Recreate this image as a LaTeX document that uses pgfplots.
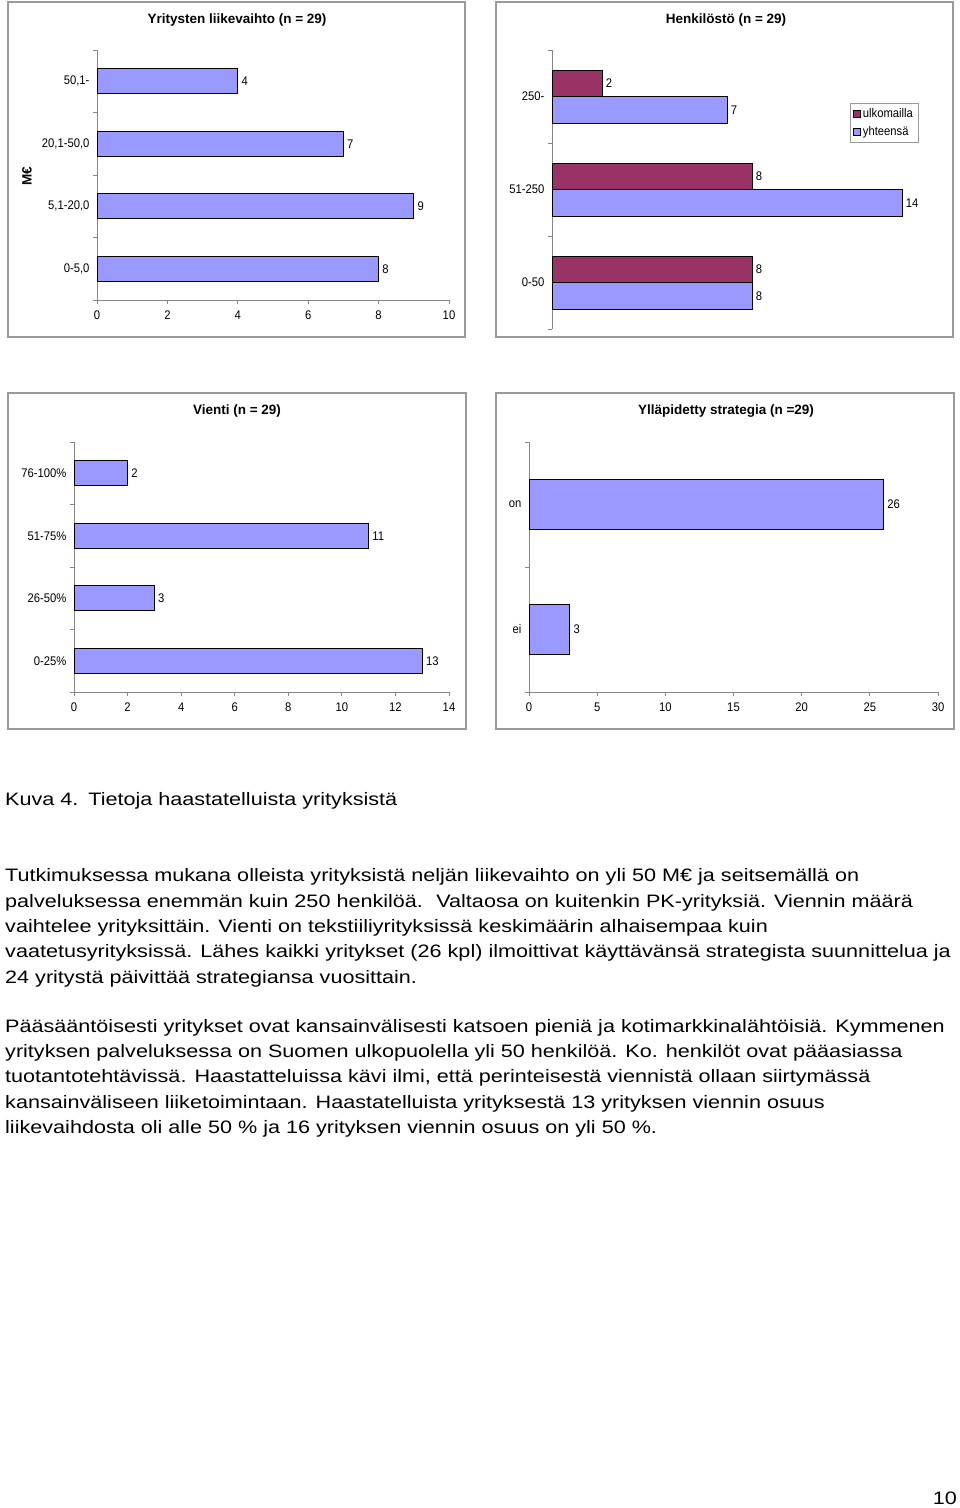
\documentclass[border=0pt]{standalone}
\usepackage{fontspec}
\setmainfont{Liberation Sans}
\newfontfamily\bodyfont[FakeStretch=1.2]{Liberation Sans}
\newfontfamily\chartfont[FakeStretch=0.9]{Liberation Sans}
\usepackage{pgfplots}
\pgfplotsset{compat=1.18}
\definecolor{barblue}{HTML}{9999FF}
\definecolor{barpurple}{HTML}{993366}
\definecolor{axgrey}{HTML}{868686}
\definecolor{framegrey}{HTML}{9A9A9A}
\newcommand\chartsz{\chartfont\fontsize{12.5}{14}\selectfont}
\newcommand\titlesz{\bfseries\fontsize{13.5}{16}\selectfont}
\newcommand\bodysz{\bodyfont\fontsize{18}{25}\selectfont}
\pgfplotsset{
  exbar/.style={
    xbar, scale only axis, anchor=south west, clip=false,
    axis lines=left, axis line style={-, draw=axgrey, line width=1pt},
    tick style={draw=axgrey, line width=1pt},
    tick align=outside, major tick length=4pt, minor tick length=4pt,
    every major y tick/.append style={draw=none},
    enlargelimits=false,
    /pgf/number format/assume math mode=true,
    tick label style={font=\chartsz, text=black},
    xticklabel style={yshift=-3pt},
    nodes near coords, point meta=x,
    nodes near coords style={font=\chartsz, text=black},
  },
}
\begin{document}
\begin{tikzpicture}
\path[use as bounding box] (0,0) rectangle (960pt,-1508pt);
% frames
\draw[framegrey, line width=1.2pt] (8pt,-2pt) rectangle (465pt,-337pt);
\draw[framegrey, line width=1.2pt] (496pt,-2pt) rectangle (953pt,-337pt);
\draw[framegrey, line width=1.2pt] (8pt,-393pt) rectangle (466pt,-729pt);
\draw[framegrey, line width=1.2pt] (496pt,-393pt) rectangle (954pt,-729pt);
% titles
\node[font=\titlesz] at (237pt,-20pt) {Yritysten liikevaihto (n = 29)};
\node[font=\titlesz] at (726pt,-20pt) {Henkilöstö (n = 29)};
\node[font=\titlesz] at (237pt,-411pt) {Vienti (n = 29)};
\node[font=\titlesz] at (726pt,-411pt) {Ylläpidetty strategia (n =29)};
\node[font=\titlesz, rotate=90] at (27pt,-176pt) {M€};

% Panel 1
\begin{axis}[exbar, at={(97pt,-300pt)}, width=352pt, height=250pt,
  xmin=0, xmax=10, xtick={0,2,...,10},
  ymin=-0.5, ymax=3.5, ytick={0,1,2,3},
  yticklabels={{0-5,0},{5,1-20,0},{20,1-50,0},{50,1-}},
  minor ytick={-0.5,0.5,1.5,2.5,3.5}, bar width=0.4]
\addplot[fill=barblue, draw=black, line width=1pt] coordinates {(8,0) (9,1) (7,2) (4,3)};
\end{axis}

% Panel 2
\begin{axis}[exbar, at={(552pt,-329pt)}, width=375pt, height=279pt,
  axis x line=none,
  xmin=0, xmax=15,
  ymin=-0.5, ymax=2.5, ytick={0,1,2},
  yticklabels={{0-50},{51-250},{250-}},
  minor ytick={-0.5,0.5,1.5,2.5}, bar width=0.285,
  legend style={at={(0.795,0.81)}, anchor=north west, draw=framegrey,
    font=\chartsz, inner sep=3pt, row sep=4pt},
  legend cell align=left,
  legend image code/.code={\draw[#1, draw=black, line width=0.6pt] (0pt,-3.5pt) rectangle (7pt,3.5pt);}]
\addplot[fill=barpurple, draw=black, line width=1pt, bar shift=0.1425] coordinates {(8,0) (8,1) (2,2)};
\addplot[fill=barblue, draw=black, line width=1pt, bar shift=-0.1425] coordinates {(8,0) (14,1) (7,2)};
\legend{ulkomailla, yhteensä}
\end{axis}

% Panel 3
\begin{axis}[exbar, at={(74pt,-692pt)}, width=375pt, height=250pt,
  xmin=0, xmax=14, xtick={0,2,...,14},
  ymin=-0.5, ymax=3.5, ytick={0,1,2,3},
  yticklabels={{0-25\%},{26-50\%},{51-75\%},{76-100\%}},
  minor ytick={-0.5,0.5,1.5,2.5,3.5}, bar width=0.4]
\addplot[fill=barblue, draw=black, line width=1pt] coordinates {(13,0) (3,1) (11,2) (2,3)};
\end{axis}

% Panel 4
\begin{axis}[exbar, at={(529pt,-692pt)}, width=409pt, height=250pt,
  xmin=0, xmax=30, xtick={0,5,...,30},
  ymin=-0.5, ymax=1.5, ytick={0,1},
  yticklabels={ei,on},
  minor ytick={-0.5,0.5,1.5}, bar width=0.4]
\addplot[fill=barblue, draw=black, line width=1pt] coordinates {(3,0) (26,1)};
\end{axis}

% text
\begin{scope}[every node/.style={anchor=base west, inner sep=0pt, font=\bodysz}]
\node at (5pt,-805pt) {Kuva 4.\hspace{0.55em}Tietoja haastatelluista yrityksistä};
\node at (5pt,-881.7pt) {Tutkimuksessa mukana olleista yrityksistä neljän liikevaihto on yli 50 M€ ja seitsemällä on};
\node at (5pt,-907pt) {palveluksessa enemmän kuin 250 henkilöä.\hspace{0.3em} Valtaosa on kuitenkin PK-yrityksiä. Viennin määrä};
\node at (5pt,-932.3pt) {vaihtelee yrityksittäin. Vienti on tekstiiliyrityksissä keskimäärin alhaisempaa kuin};
\node at (5pt,-957.7pt) {vaatetusyrityksissä. Lähes kaikki yritykset (26 kpl) ilmoittivat käyttävänsä strategista suunnittelua ja};
\node at (5pt,-983.3pt) {24 yritystä päivittää strategiansa vuosittain.};
\node at (5pt,-1032.7pt) {Pääsääntöisesti yritykset ovat kansainvälisesti katsoen pieniä ja kotimarkkinalähtöisiä. Kymmenen};
\node at (5pt,-1057.7pt) {yrityksen palveluksessa on Suomen ulkopuolella yli 50 henkilöä. Ko. henkilöt ovat pääasiassa};
\node at (5pt,-1082.7pt) {tuotantotehtävissä. Haastatteluissa kävi ilmi, että perinteisestä viennistä ollaan siirtymässä};
\node at (5pt,-1108.3pt) {kansainväliseen liiketoimintaan. Haastatelluista yrityksestä 13 yrityksen viennin osuus};
\node at (5pt,-1133.3pt) {liikevaihdosta oli alle 50 \% ja 16 yrityksen viennin osuus on yli 50 \%.};
\end{scope}
\node[anchor=base east, inner sep=0pt, font=\bodysz] at (957pt,-1504pt) {10};
\end{tikzpicture}
\end{document}
